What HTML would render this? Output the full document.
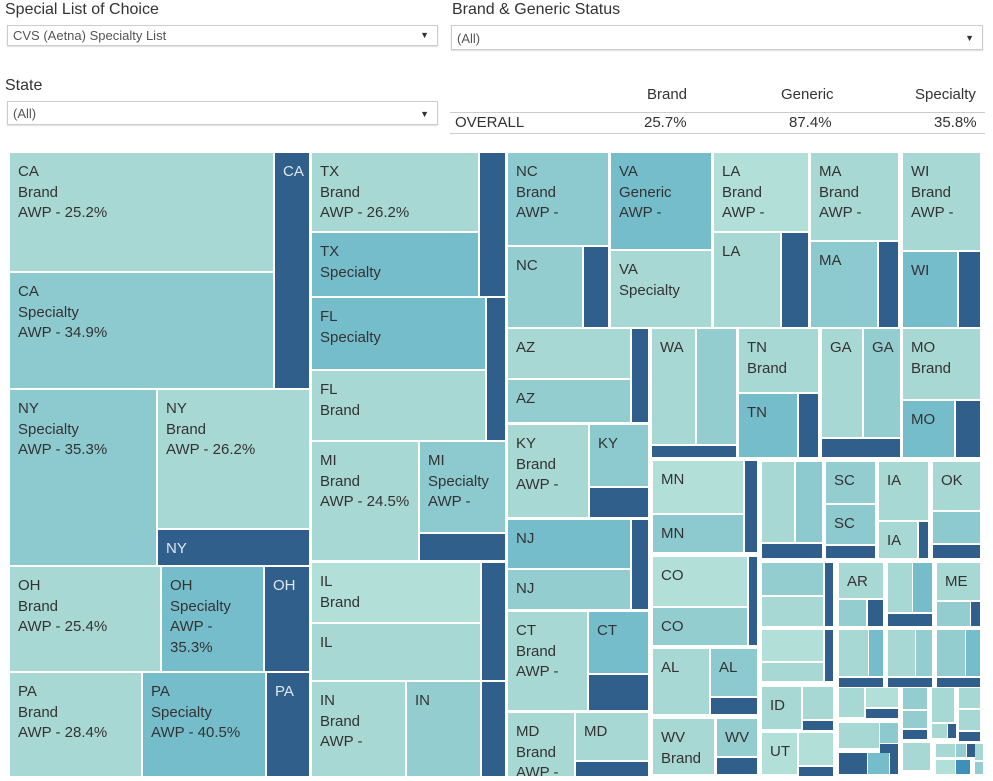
<!DOCTYPE html>
<html><head><meta charset="utf-8">
<style>
body{margin:0;background:#fff;width:993px;height:781px;position:relative;overflow:hidden;font-family:"Liberation Sans",sans-serif;color:#333}
.lbl{position:absolute;font-size:16px;color:#333}
.dd{position:absolute;border:1px solid #ccc;background:#fff;font-size:13px;color:#555;box-sizing:border-box;padding-left:5px;box-shadow:0 1px 1px #ddd}
.dd span.arr{position:absolute;right:8px;top:0;font-size:9px;color:#333}
.hd{position:absolute;font-size:15px;color:#333}
.cell{position:absolute;box-sizing:border-box;font-size:15px;color:#333;padding:9px 0 0 8px;line-height:20.5px;overflow:hidden;white-space:nowrap}
</style></head><body>
<div class="lbl" style="left:5px;top:1px">Special List of Choice</div>
<div class="dd" style="left:7px;top:25px;width:431px;height:21px;line-height:19px">CVS (Aetna) Specialty List<span class="arr">▼</span></div>
<div class="lbl" style="left:452px;top:1px">Brand &amp; Generic Status</div>
<div class="dd" style="left:451px;top:25px;width:532px;height:25px;line-height:25px">(All)<span class="arr" style="line-height:25px">▼</span></div>
<div class="lbl" style="left:5px;top:77px">State</div>
<div class="dd" style="left:7px;top:101px;width:431px;height:24px;line-height:24px">(All)<span class="arr" style="line-height:24px">▼</span></div>
<div class="hd" style="left:647px;top:86px">Brand</div>
<div class="hd" style="left:781px;top:86px">Generic</div>
<div class="hd" style="left:915px;top:86px">Specialty</div>
<div style="position:absolute;left:450px;top:112px;width:535px;height:1px;background:#ccc"></div>
<div class="hd" style="left:455px;top:114px">OVERALL</div>
<div class="hd" style="left:644px;top:114px">25.7%</div>
<div class="hd" style="left:789px;top:114px">87.4%</div>
<div class="hd" style="left:934px;top:114px">35.8%</div>
<div style="position:absolute;left:450px;top:133px;width:535px;height:1px;background:#ccc"></div>
<div id="tm"></div>
<script>
const colors={L:"#a8d8d3",V:"#b2e0d8",M:"#94cdd0",N:"#8ccad0",T:"#76bdcb",D:"#2f5f8a",B:"#3f8fb8"};
const cells=[
[10,153,273,271,"L","CA<br>Brand<br>AWP - 25.2%"],[10,273,273,388,"N","CA<br>Specialty<br>AWP - 34.9%"],[275,153,309,388,"D","CA"],
[10,390,156,565,"N","NY<br>Specialty<br>AWP - 35.3%"],[158,390,309,528,"L","NY<br>Brand<br>AWP - 26.2%"],[158,530,309,565,"D","NY"],
[10,567,160,671,"L","OH<br>Brand<br>AWP - 25.4%"],[162,567,263,671,"T","OH<br>Specialty<br>AWP -<br>35.3%"],[265,567,309,671,"D","OH"],
[10,673,141,776,"L","PA<br>Brand<br>AWP - 28.4%"],[143,673,265,776,"T","PA<br>Specialty<br>AWP - 40.5%"],[267,673,309,776,"D","PA"],
[312,153,478,231,"L","TX<br>Brand<br>AWP - 26.2%"],[312,233,478,296,"T","TX<br>Specialty"],[480,153,505,296,"D",""],
[312,298,485,369,"T","FL<br>Specialty"],[312,371,485,440,"L","FL<br>Brand"],[487,298,505,440,"D",""],
[312,442,418,560,"L","MI<br>Brand<br>AWP - 24.5%"],[420,442,505,532,"N","MI<br>Specialty<br>AWP -"],[420,534,505,560,"D",""],
[312,563,480,622,"V","IL<br>Brand"],[312,624,480,680,"L","IL"],[482,563,505,680,"D",""],
[312,682,405,776,"L","IN<br>Brand<br>AWP -"],[407,682,480,776,"M","IN"],[482,682,505,776,"D",""],
[508,153,608,245,"N","NC<br>Brand<br>AWP -"],[508,247,582,327,"M","NC"],[584,247,608,327,"D",""],
[611,153,711,249,"T","VA<br>Generic<br>AWP -"],[611,251,711,327,"L","VA<br>Specialty"],
[714,153,808,231,"V","LA<br>Brand<br>AWP -"],[714,233,780,327,"L","LA"],[782,233,808,327,"D",""],
[811,153,898,240,"L","MA<br>Brand<br>AWP -"],[811,242,877,327,"N","MA"],[879,242,898,327,"D",""],
[903,153,980,250,"L","WI<br>Brand<br>AWP -"],[903,252,957,327,"T","WI"],[959,252,980,327,"D",""],
[508,329,630,378,"L","AZ"],[508,380,630,422,"M","AZ"],[632,329,648,422,"D",""],
[508,425,588,517,"L","KY<br>Brand<br>AWP -"],[590,425,648,486,"N","KY"],[590,488,648,517,"D",""],
[508,520,630,568,"T","NJ"],[508,570,630,609,"M","NJ"],[632,520,648,609,"D",""],
[508,612,587,710,"L","CT<br>Brand<br>AWP -"],[589,612,648,673,"T","CT"],[589,675,648,710,"D",""],
[508,713,574,776,"L","MD<br>Brand<br>AWP -"],[576,713,648,760,"L","MD"],[576,762,648,776,"D",""],
[652,329,695,444,"L","WA"],[697,329,736,444,"M",""],[652,446,736,457,"D",""],
[739,329,818,392,"L","TN<br>Brand"],[739,394,797,457,"T","TN"],[799,394,818,457,"D",""],
[822,329,862,437,"L","GA"],[864,329,900,437,"M","GA"],[822,439,900,457,"D",""],
[903,329,980,399,"L","MO<br>Brand"],[903,401,954,457,"T","MO"],[956,401,980,457,"D",""],
[653,461,743,513,"V","MN"],[653,515,743,552,"N","MN"],[745,461,757,552,"D",""],
[762,462,794,542,"L",""],[796,462,822,542,"N",""],[762,544,822,558,"D",""],
[826,462,875,503,"M","SC"],[826,505,875,544,"N","SC"],[826,546,875,558,"D",""],
[879,462,928,520,"L","IA"],[879,522,917,558,"L","IA"],[919,522,928,558,"D",""],
[933,462,980,510,"L","OK"],[933,512,980,543,"N",""],[933,545,980,558,"D",""],
[653,557,747,606,"V","CO"],[653,608,747,645,"M","CO"],[749,557,757,645,"D",""],
[653,649,709,714,"L","AL"],[711,649,757,696,"N","AL"],[711,698,757,714,"D",""],
[653,719,714,774,"L","WV<br>Brand"],[717,719,757,756,"M","WV"],[717,758,757,774,"D",""],
[762,563,823,595,"M",""],[762,597,823,626,"L",""],[825,563,833,626,"D",""],
[762,630,823,661,"V",""],[762,663,823,681,"L",""],[825,630,833,681,"D",""],
[762,687,801,729,"L","ID"],[803,687,833,719,"L",""],[803,721,833,729,"D",""],
[762,733,797,774,"V","UT"],[799,733,833,765,"V",""],[799,767,833,774,"D",""],
[839,563,883,598,"L","AR"],[839,600,866,626,"M",""],[868,600,883,626,"D",""],
[888,563,912,612,"L",""],[913,563,932,612,"T",""],[888,614,932,626,"D",""],
[937,563,980,600,"L","ME"],[937,602,970,626,"M",""],[971,602,980,626,"D",""],
[839,630,868,676,"L",""],[869,630,883,676,"T",""],[839,678,883,683,"D",""],
[888,630,915,676,"L",""],[916,630,932,676,"M",""],[888,678,932,683,"D",""],
[937,630,965,676,"M",""],[966,630,980,676,"T",""],[937,678,980,683,"D",""],
[839,688,864,717,"L",""],[866,688,898,707,"V",""],[866,709,898,717,"D",""],
[839,723,879,748,"L",""],[880,723,898,743,"N",""],[880,744,898,748,"D",""],
[839,753,867,774,"D",""],[868,753,889,774,"T",""],[890,753,898,774,"D",""],
[903,688,927,709,"M",""],[903,711,927,728,"M",""],[903,730,927,738,"D",""],
[932,688,954,722,"L",""],[932,724,947,738,"L",""],[948,724,954,738,"D",""],
[959,688,980,708,"L",""],[959,710,980,730,"L",""],[959,732,980,738,"D",""],
[903,743,930,770,"L",""],[936,744,955,757,"L",""],[956,744,966,757,"M",""],[967,744,970,757,"D",""],
[936,760,955,774,"V",""],[956,760,970,774,"B",""],[975,744,980,760,"L",""],[975,762,980,774,"M",""]
];
const tm=document.getElementById('tm');
cells.forEach(c=>{
  const d=document.createElement('div');
  d.className='cell';
  
  
  d.style.left=c[0]+'px';d.style.top=c[1]+'px';
  d.style.width=(c[2]-c[0])+'px';d.style.height=(c[3]-c[1])+'px';
  d.style.background=colors[c[4]];
  if(c[4]==='D'){d.style.color='#dde8f0';}
  d.innerHTML=c[5];
  tm.appendChild(d);
});
</script>
</body></html>
